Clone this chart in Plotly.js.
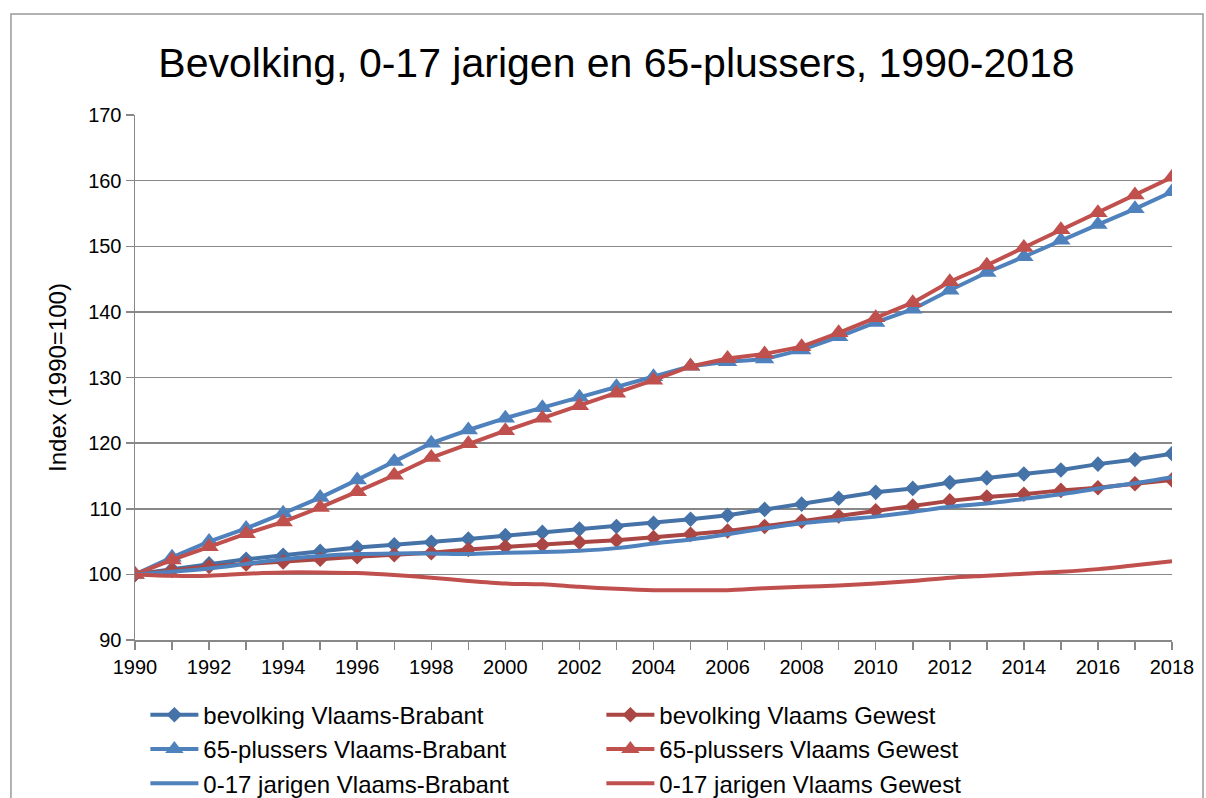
<!DOCTYPE html>
<html>
<head>
<meta charset="utf-8">
<script src="https://cdn.plot.ly/plotly-3.0.1.min.js"></script>
<style>
  html, body { margin: 0; padding: 0; background: #fff; }
  #chart { width: 1206px; height: 798px; }
</style>
</head>
<body>
<div id="chart"></div>
<script>
// ####################################
// # data (index, 1990 = 100)
// ####################################
var years = [1990,1991,1992,1993,1994,1995,1996,1997,1998,1999,2000,2001,2002,2003,2004,
             2005,2006,2007,2008,2009,2010,2011,2012,2013,2014,2015,2016,2017,2018];

var bevolkingVB = [100,100.8,101.6,102.3,102.9,103.5,104.1,104.5,104.9,105.4,105.9,106.4,106.9,107.3,107.8,
                   108.4,109.0,109.9,110.7,111.6,112.5,113.1,114.0,114.7,115.3,115.9,116.8,117.5,118.4];
var bevolkingVG = [100,100.6,101.2,101.6,101.9,102.3,102.7,103.0,103.3,103.8,104.2,104.5,104.9,105.2,105.6,
                   106.1,106.6,107.3,108.1,108.9,109.7,110.4,111.2,111.8,112.2,112.8,113.2,113.8,114.4];
var plus65VB = [100,102.6,105.0,107.0,109.3,111.7,114.4,117.2,120.0,122.0,123.8,125.4,127.0,128.6,130.1,
                131.7,132.4,132.8,134.2,136.2,138.4,140.4,143.3,146.0,148.4,150.9,153.3,155.7,158.3];
var plus65VG = [100,102.2,104.2,106.2,108.0,110.2,112.6,115.1,117.8,119.9,121.9,123.8,125.7,127.6,129.6,
                131.7,132.9,133.6,134.7,136.8,139.1,141.4,144.6,147.1,149.8,152.5,155.1,157.8,160.5];
var jong017VB = [100,100.4,100.9,101.6,102.3,102.8,103.1,103.2,103.2,103.1,103.3,103.4,103.6,104.0,104.7,
                 105.3,106.1,107.0,107.8,108.3,108.8,109.5,110.3,110.8,111.5,112.2,113.1,113.9,114.8];
var jong017VG = [100,99.8,99.8,100.1,100.3,100.3,100.2,99.9,99.5,99.0,98.6,98.5,98.1,97.8,97.6,
                 97.6,97.6,97.9,98.1,98.3,98.6,99.0,99.5,99.8,100.1,100.4,100.8,101.4,102.0];

var xTickVals = [1990,1992,1994,1996,1998,2000,2002,2004,2006,2008,2010,2012,2014,2016,2018];
var yTickVals = [90,100,110,120,130,140,150,160,170];

var FONT = 'Liberation Sans, Arial, sans-serif';

function makeTrace(y, name, color, symbol, msize, smooth){
    var t = {
      type: 'scatter',
      x: years,
      y: y,
      name: name,
      mode: symbol ? 'lines+markers' : 'lines',
      line: { color: color, width: 4 }
    };
    if (symbol) {
        t.marker = { symbol: symbol, size: msize, color: color };
    }
    if (smooth) {
        t.line.shape = 'spline';
        t.line.smoothing = 0.8;
    }
    return t;
}

var data = [
  makeTrace(bevolkingVB, 'bevolking Vlaams-Brabant', '#4572A7', 'diamond', 12),
  makeTrace(bevolkingVG, 'bevolking Vlaams Gewest', '#AA4643', 'diamond', 12),
  makeTrace(plus65VB, '65-plussers Vlaams-Brabant', '#4F81BD', 'triangle-up', 17),
  makeTrace(plus65VG, '65-plussers Vlaams Gewest', '#C0504D', 'triangle-up', 17),
  makeTrace(jong017VB, '0-17 jarigen Vlaams-Brabant', '#4F81BD', null, 0, true),
  makeTrace(jong017VG, '0-17 jarigen Vlaams Gewest', '#C0504D', null, 0, true)
];

var layout = {
  width: 1206,
  height: 798,
  margin: { l: 135, r: 34, t: 115, b: 158 },
  paper_bgcolor: '#ffffff',
  plot_bgcolor: '#ffffff',
  font: { family: FONT, color: '#000000', size: 20 },
  showlegend: true,
  title: {
    text: 'Bevolking, 0-17 jarigen en 65-plussers, 1990-2018',
    font: { family: FONT, size: 41, color: '#000000' },
    xref: 'paper', x: 0.4643, xanchor: 'center',
    yref: 'container', y: 0.922, yanchor: 'middle'
  },
  xaxis: {
    range: [1990, 2018],
    tickvals: xTickVals,
    ticks: 'outside', ticklen: 8, tickwidth: 1.5, tickcolor: '#888888',
    showgrid: false, zeroline: false,
    showline: true, linecolor: '#888888', linewidth: 1.5,
    minor: { dtick: 1, ticks: 'outside', ticklen: 8, tickwidth: 1.5, tickcolor: '#888888', showgrid: false },
    tickfont: { family: FONT, size: 20, color: '#000000' },
    fixedrange: true
  },
  yaxis: {
    range: [90, 170],
    tickvals: yTickVals,
    ticks: 'outside', ticklen: 8, tickwidth: 1.5, tickcolor: '#888888',
    showgrid: true, gridcolor: '#888888', gridwidth: 1.5,
    zeroline: false,
    showline: true, linecolor: '#888888', linewidth: 1.5,
    tickfont: { family: FONT, size: 20, color: '#000000' },
    title: { text: 'Index (1990=100)', font: { family: FONT, size: 24, color: '#000000' }, standoff: 14 },
    fixedrange: true
  },
  legend: {
    orientation: 'h',
    xref: 'paper', x: 0.010, xanchor: 'left',
    yref: 'container', y: 0.132, yanchor: 'top',
    entrywidth: 393, entrywidthmode: 'pixels',
    itemwidth: 48,
    tracegroupgap: 0,
    font: { family: FONT, size: 24, color: '#000000' },
    bgcolor: 'rgba(0,0,0,0)'
  },
  shapes: [{
    type: 'rect', xref: 'paper', yref: 'paper', layer: 'below',
    x0: -0.1196, x1: 1.0299, y0: -0.33, y1: 1.1924,
    line: { color: '#999999', width: 1.5 }, fillcolor: 'rgba(0,0,0,0)'
  }]
};

Plotly.newPlot('chart', data, layout, { displayModeBar: false, staticPlot: true });
</script>
</body>
</html>
